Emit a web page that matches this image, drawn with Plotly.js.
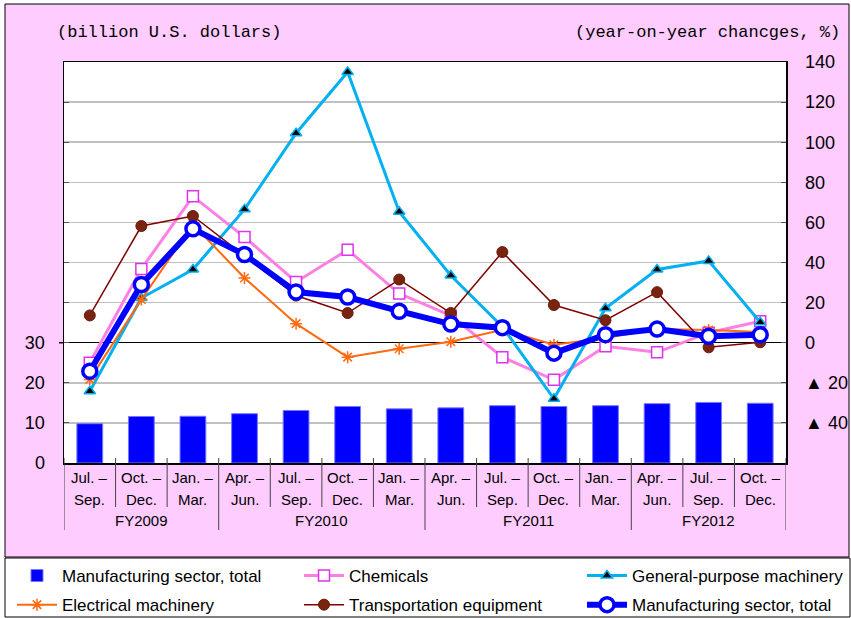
<!DOCTYPE html>
<html><head><meta charset="utf-8">
<script src="https://cdn.plot.ly/plotly-3.0.1.min.js"></script>
<style>html,body{margin:0;padding:0;background:#fff}#chart{width:851px;height:618px}</style>
</head><body><div id="chart"></div>
<script>
// ---- data ----
const catLine1 = ["Jul. –","Oct. –","Jan. –","Apr. –","Jul. –","Oct. –","Jan. –","Apr. –","Jul. –","Oct. –","Jan. –","Apr. –","Jul. –","Oct. –"];
const catLine2 = ["Sep.","Dec.","Mar.","Jun.","Sep.","Dec.","Mar.","Jun.","Sep.","Dec.","Mar.","Jun.","Sep.","Dec."];
const fyLabels = ["FY2009","FY2010","FY2011","FY2012"];
const fyStart = [0,3,7,11];
const fyEnd = [2,6,10,13];

const mfgTotalBillion = [9.8, 11.6, 11.65, 12.3, 13.1, 14.1, 13.5, 13.75, 14.3, 14.1, 14.3, 14.8, 15.1, 14.9];
const chemicals      = [-10, 36.8, 73, 52.7, 30.3, 46.3, 24.5, 13.5, -7.2, -18.5, -1.8, -4.8, 5, 10.7];
const generalPurpose = [-24.2, 22.3, 36.5, 66.5, 104.5, 135, 65.3, 33.5, 8, -28, 17.2, 36.5, 40.8, 10.2];
const electrical     = [-18.3, 21.5, 59, 32.3, 9.5, -7.2, -3, 0.5, 6.5, -1, 2.3, 6.8, 6.3, 5.3];
const transport      = [13.6, 58.2, 63.2, 43.5, 23.5, 14.8, 31.5, 14.8, 45.2, 18.8, 11.2, 25.2, -2.3, 0.2];
const mfgTotalYoY    = [-14.2, 29, 56.8, 44, 25.3, 22.8, 15.7, 9.3, 7.5, -5.2, 4, 6.8, 3.2, 4];

const leftTickVals = [0,10,20,30,40,50,60,70,80,90,100];
const leftTickText = ["0","10","20","30","","","","","","",""];
const rightTickVals = [-60,-40,-20,0,20,40,60,80,100,120,140];
const rightTickText = ["","▲ 40","▲ 20","0","20","40","60","80","100","120","140"];

// ---- layout helpers ----
const L=64, R=786, T=62, B=463, W=851, H=618;
const px2x = p => (p-L)/(R-L);
const py2y = p => (B-p)/(B-T);
const idx = catLine1.map((_,i)=>i);

const sans = "Liberation Sans, Arial, sans-serif";
const legFont = {family:"Liberation Sans, Arial, sans-serif", size:17, color:"#000"};

const traces = [
  {type:"bar", x:idx, y:mfgTotalBillion, name:"Manufacturing sector, total", yaxis:"y", legend:"legend", legendgroup:"a",
   width:0.5, marker:{color:"#0000FF", line:{color:"#7777FF", width:1}}},
  {type:"scatter", mode:"lines+markers", x:idx, y:chemicals, name:"Chemicals", yaxis:"y2", legend:"legend2", legendgroup:"b",
   line:{color:"#FF80E4", width:3}, marker:{symbol:"square", size:11, color:"#FFFFFF", line:{color:"#DD33EE", width:1.5}}},
  {type:"scatter", mode:"lines+markers", x:idx, y:generalPurpose, name:"General-purpose machinery", yaxis:"y2", legend:"legend3", legendgroup:"c",
   line:{color:"#00B0F0", width:3}, marker:{symbol:"triangle-up", size:10, color:"#000000", line:{color:"#00B0F0", width:1.5}}},
  {type:"scatter", mode:"lines+markers", x:idx, y:electrical, name:"Electrical machinery", yaxis:"y2", legend:"legend", legendgroup:"d",
   line:{color:"#FF6A10", width:2}, marker:{symbol:"asterisk-open", size:10, color:"#FF6A10", line:{color:"#FF6A10", width:1.5}}},
  {type:"scatter", mode:"lines+markers", x:idx, y:transport, name:"Transportation equipment", yaxis:"y2", legend:"legend2", legendgroup:"e",
   line:{color:"#800000", width:1.5}, marker:{symbol:"circle", size:11, color:"#7A2410", line:{color:"#6A1A08", width:1}}},
  {type:"scatter", mode:"lines+markers", x:idx, y:mfgTotalYoY, name:"Manufacturing sector, total ", yaxis:"y2", legend:"legend3", legendgroup:"f",
   line:{color:"#0000FF", width:6}, marker:{symbol:"circle", size:14, color:"#FFFFFF", line:{color:"#0000FF", width:3.5}}}
];

const shapes = [
  {type:"rect", xref:"paper", yref:"paper", x0:px2x(5), x1:px2x(849), y0:py2y(557), y1:py2y(4),
   fillcolor:"#FFCCFF", line:{color:"#000", width:1}, layer:"below"},
  {type:"rect", xref:"paper", yref:"paper", x0:0, x1:1, y0:0, y1:1,
   fillcolor:"#FFFFFF", line:{width:0}, layer:"below"},
  {type:"rect", xref:"paper", yref:"paper", x0:px2x(5), x1:px2x(850), y0:py2y(617), y1:py2y(558),
   fillcolor:"#FFFFFF", line:{color:"#000", width:1}, layer:"below"}
];
// category separators
const groupBounds = new Set(fyStart.concat([idx.length]));
for (let i=0;i<=idx.length;i++){
  const isGroup = groupBounds.has(i);
  shapes.push({type:"line", xref:"x", yref:"paper", x0:i-0.5, x1:i-0.5,
    y0:py2y(isGroup?530:507), y1:py2y(458), line:{color:"#444", width:1}});
}
// left tick of the zero line
shapes.push({type:"line", xref:"paper", yref:"y2", x0:px2x(59), x1:0, y0:0, y1:0, line:{color:"#000", width:1.5}});

const annotations = [
  {text:"(billion U.S. dollars)", xref:"paper", yref:"paper", x:px2x(55), y:py2y(32), xanchor:"left", yanchor:"middle",
   showarrow:false, font:{family:"Liberation Mono, DejaVu Sans Mono, monospace", size:17, color:"#000"}},
  {text:"(year-on-year chancges, %)", xref:"paper", yref:"paper", x:px2x(842), y:py2y(32), xanchor:"right", yanchor:"middle",
   showarrow:false, font:{family:"Liberation Mono, DejaVu Sans Mono, monospace", size:17, color:"#000"}}
];
idx.forEach(i=>{
  annotations.push({text:catLine1[i], xref:"x", yref:"paper", x:i, y:py2y(477), yanchor:"middle", showarrow:false,
    font:{family:sans, size:15, color:"#000"}});
  annotations.push({text:catLine2[i], xref:"x", yref:"paper", x:i, y:py2y(499), yanchor:"middle", showarrow:false,
    font:{family:sans, size:15, color:"#000"}});
});
fyLabels.forEach((f,k)=>{
  annotations.push({text:f, xref:"x", yref:"paper", x:(fyStart[k]+fyEnd[k])/2, y:py2y(520), yanchor:"middle", showarrow:false,
    font:{family:sans, size:15, color:"#000"}});
});

const legBase = {orientation:"v", xanchor:"left", yanchor:"top", y:py2y(558), bgcolor:"rgba(0,0,0,0)",
  borderwidth:0, font:legFont, itemwidth:40, tracegroupgap:4};

const layout = {
  width:W, height:H,
  margin:{l:L, r:W-R, t:T, b:H-B, pad:0, autoexpand:false},
  paper_bgcolor:"#FFFFFF", plot_bgcolor:"#FFFFFF",
  showlegend:true,
  bargap:0.5,
  xaxis:{range:[-0.5,13.5], showticklabels:false, ticks:"", showgrid:false, zeroline:false,
    showline:true, linecolor:"#000", linewidth:1.5, mirror:true, fixedrange:true},
  yaxis:{range:[0,100], tickvals:leftTickVals, ticktext:leftTickText, ticks:"inside", ticklen:5, tickcolor:"#555",
    showgrid:false, zeroline:false, showline:true, linecolor:"#000", linewidth:1.5,
    tickfont:{family:sans, size:18, color:"#000"}, ticklabelstandoff:14},
  yaxis2:{range:[-60,140], overlaying:"y", side:"right", tickvals:rightTickVals, ticktext:rightTickText,
    ticks:"inside", ticklen:5, tickcolor:"#555", showgrid:true, gridcolor:"#C0C0C0", gridwidth:1.5,
    zeroline:true, zerolinecolor:"#000", zerolinewidth:1.5, showline:true, linecolor:"#000", linewidth:1.5,
    tickfont:{family:sans, size:18, color:"#000"}, ticklabelstandoff:14},
  legend:Object.assign({}, legBase, {x:px2x(12)}),
  legend2:Object.assign({}, legBase, {x:px2x(299)}),
  legend3:Object.assign({}, legBase, {x:px2x(582)}),
  shapes:shapes,
  annotations:annotations
};

Plotly.newPlot("chart", traces, layout, {displayModeBar:false, staticPlot:true});
</script></body></html>
